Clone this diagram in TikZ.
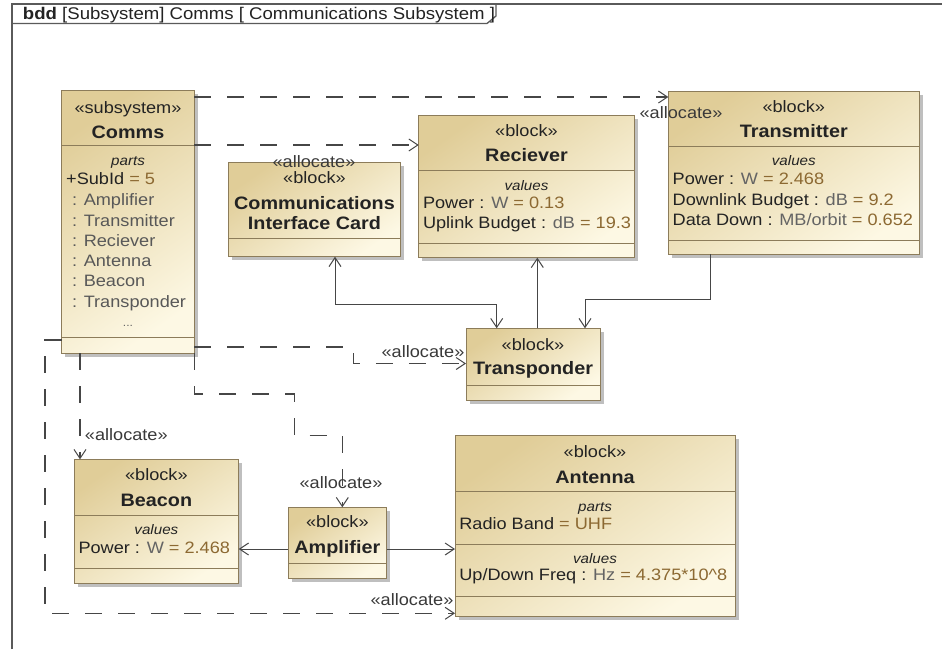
\documentclass[tikz,border=0pt]{standalone}
\usepackage{fontspec}
\setmainfont{Liberation Sans}[FakeStretch=1.1]
\usetikzlibrary{arrows.meta,shadows}

% palette
\definecolor{frameline}{RGB}{90,90,90}
\definecolor{edgeline}{RGB}{70,70,70}
\definecolor{blockborder}{RGB}{140,124,90}
\definecolor{blocktop}{RGB}{224,205,152}
\definecolor{blockbottom}{RGB}{253,248,228}
\definecolor{nametext}{RGB}{35,35,35}
\definecolor{typetext}{RGB}{100,100,100}
\definecolor{parttext}{RGB}{88,88,88}
\definecolor{valuetext}{RGB}{140,105,50}

\newcommand{\typ}[1]{\textcolor{typetext}{#1}}
\newcommand{\val}[1]{\textcolor{valuetext}{#1}}

\tikzset{
  frame/.style={draw=frameline, line width=1.3pt},
  blockbox/.style={draw=blockborder, line width=1pt, inner sep=0pt, outer sep=0pt,
    anchor=north west, top color=blocktop, bottom color=blockbottom, shading angle=35,
    drop shadow={shadow xshift=3.5pt, shadow yshift=-3.5pt, fill=black!50, opacity=0.5}},
  compline/.style={draw=blockborder, line width=0.9pt},
  txtbase/.style={inner sep=0pt, outer sep=0pt, text=nametext, text depth=0pt},
  stereo/.style={txtbase, font=\fontsize{16.5}{19}\selectfont, text height=11.8pt},
  blocktitle/.style={txtbase, font=\bfseries\fontsize{18}{21}\selectfont, text height=12.9pt},
  compname/.style={txtbase, font=\itshape\fontsize{13.8}{16}\selectfont, text height=9.9pt},
  attr/.style={stereo, anchor=west},
  partline/.style={attr, text=parttext},
  lbl/.style={stereo, text=nametext!90},
  barb/.tip={Straight Barb[length=9pt,width=12pt,line width=1pt]},
  assoc/.style={draw=edgeline, line width=1pt},
  alloc/.style={draw=edgeline, line width=1.1pt, dash pattern=on 17pt off 16pt, -barb},
}

\begin{document}
\begin{tikzpicture}[x=1pt, y=-1pt]
\useasboundingbox (0,0) rectangle (942,649);
\fill[white] (0,0) rectangle (942,649);

% diagram frame with its name tab
\draw[frame] (12,649) -- (12,4) -- (942,4);
\draw[frame] (12,23.5) -- (487,23.5) -- (496,16) -- (496,4);
\node[stereo, anchor=west, font=\fontsize{16.9}{19}\selectfont, text height=11.8pt] (title) at (23,13.8)
  {\textbf{bdd} [Subsystem] Comms [ Communications Subsystem ]};

% ---------- blocks ----------
\node[blockbox, minimum width=132.6pt, minimum height=263pt] (comms) at (61.7,90) {};
\draw[compline] (comms.west |- 0,145.7) -- (comms.east |- 0,145.7);
\draw[compline] (comms.west |- 0,337.7) -- (comms.east |- 0,337.7);

\node[blockbox, minimum width=172.4pt, minimum height=94pt] (cic) at (228.3,162.7) {};
\draw[compline] (cic.west |- 0,238.7) -- (cic.east |- 0,238.7);

\node[blockbox, minimum width=215.6pt, minimum height=142.7pt] (recv) at (418.7,115) {};
\draw[compline] (recv.west |- 0,170) -- (recv.east |- 0,170);
\draw[compline] (recv.west |- 0,243.3) -- (recv.east |- 0,243.3);

\node[blockbox, minimum width=251pt, minimum height=163pt] (tx) at (668.3,91) {};
\draw[compline] (tx.west |- 0,146.7) -- (tx.east |- 0,146.7);
\draw[compline] (tx.west |- 0,240.7) -- (tx.east |- 0,240.7);

\node[blockbox, minimum width=134pt, minimum height=71.7pt] (tp) at (466,328.3) {};
\draw[compline] (tp.west |- 0,385) -- (tp.east |- 0,385);

\node[blockbox, minimum width=164.7pt, minimum height=124pt] (beacon) at (74,459.3) {};
\draw[compline] (beacon.west |- 0,515.7) -- (beacon.east |- 0,515.7);
\draw[compline] (beacon.west |- 0,568.3) -- (beacon.east |- 0,568.3);

\node[blockbox, minimum width=98.7pt, minimum height=71pt] (amp) at (288,507.3) {};
\draw[compline] (amp.west |- 0,563.3) -- (amp.east |- 0,563.3);

\node[blockbox, minimum width=280pt, minimum height=181.7pt] (ant) at (455,435) {};
\draw[compline] (ant.west |- 0,491) -- (ant.east |- 0,491);
\draw[compline] (ant.west |- 0,544.3) -- (ant.east |- 0,544.3);
\draw[compline] (ant.west |- 0,596.7) -- (ant.east |- 0,596.7);

% ---------- block texts ----------
% Comms
\node[stereo] (commsst) at (comms.north |- 0,108) {«subsystem»};
\node[blocktitle] (commsname) at (comms.north |- 0,131.7) {Comms};
\node[compname] (commsparts) at (comms.north |- 0,161) {parts};
\node[attr] (commsp0) at (66.2,179) {+SubId \val{= 5}};
\node[partline] (commsp1) at (72,200) {: Amplifier};
\node[partline] (commsp2) at (72,220.3) {: Transmitter};
\node[partline] (commsp3) at (72,240.6) {: Reciever};
\node[partline] (commsp4) at (72,260.8) {: Antenna};
\node[partline] (commsp5) at (72,281) {: Beacon};
\node[partline] (commsp6) at (72,301.2) {: Transponder};
\node[txtbase, text=typetext, font=\fontsize{11}{12}\selectfont, text height=8pt] (commsmore) at (comms.north |- 0,322) {...};

% Communications Interface Card
\node[stereo] (cicst) at (cic.north |- 0,177.7) {«block»};
\node[blocktitle] (cicnameA) at (cic.north |- 0,203) {Communications};
\node[blocktitle] (cicnameB) at (cic.north |- 0,222.7) {Interface Card};

% Reciever
\node[stereo] (recvst) at (recv.north |- 0,130.7) {«block»};
\node[blocktitle] (recvname) at (recv.north |- 0,155) {Reciever};
\node[compname] (recvvals) at (recv.north |- 0,185.3) {values};
\node[attr] (recvv1) at (423,202.7) {Power : \typ{W} \val{= 0.13}};
\node[attr] (recvv2) at (423,222.7) {Uplink Budget : \typ{dB} \val{= 19.3}};

% Transmitter
\node[stereo] (txst) at (tx.north |- 0,106.7) {«block»};
\node[blocktitle] (txname) at (tx.north |- 0,130.7) {Transmitter};
\node[compname] (txvals) at (tx.north |- 0,161) {values};
\node[attr] (txv1) at (672.7,178.3) {Power : \typ{W} \val{= 2.468}};
\node[attr] (txv2) at (672.7,199.3) {Downlink Budget : \typ{dB} \val{= 9.2}};
\node[attr] (txv3) at (672.7,220) {Data Down : \typ{MB/orbit} \val{= 0.652}};

% Transponder
\node[stereo] (tpst) at (tp.north |- 0,345) {«block»};
\node[blocktitle] (tpname) at (tp.north |- 0,368.3) {Transponder};

% Beacon
\node[stereo] (beaconst) at (beacon.north |- 0,475) {«block»};
\node[blocktitle] (beaconname) at (beacon.north |- 0,500) {Beacon};
\node[compname] (beaconvals) at (beacon.north |- 0,529.3) {values};
\node[attr] (beaconv1) at (78.5,547.7) {Power : \typ{W} \val{= 2.468}};

% Amplifier
\node[stereo] (ampst) at (amp.north |- 0,521.7) {«block»};
\node[blocktitle] (ampname) at (amp.north |- 0,547.3) {Amplifier};

% Antenna
\node[stereo] (antst) at (ant.north |- 0,451.7) {«block»};
\node[blocktitle] (antname) at (ant.north |- 0,476.7) {Antenna};
\node[compname] (antparts) at (ant.north |- 0,506.7) {parts};
\node[attr] (antp1) at (459.3,524) {Radio Band \val{= UHF}};
\node[compname] (antvals) at (ant.north |- 0,558.3) {values};
\node[attr] (antv1) at (459.3,575) {Up/Down Freq : \typ{Hz} \val{= 4.375*10\^{}8}};

% ---------- associations ----------
\draw[assoc, barb-barb] (cic.south -| 335,0) -- (335,304.3) -- (496.7,304.3) -- (tp.north -| 496.7,0);
\draw[assoc, -barb] (tp.north -| 537.3,0) -- (recv.south -| 537.3,0);
\draw[assoc, -barb] (tx.south -| 710.5,0) -- (710.5,299.3) -- (585,299.3) -- (tp.north -| 585,0);
\draw[assoc, -barb] (amp.west |- 0,549) -- (beacon.east |- 0,549);
\draw[assoc, -barb] (amp.east |- 0,549) -- (ant.west |- 0,549);

% ---------- allocations ----------
\draw[alloc] (comms.east |- 0,97) -- (tx.west |- 0,97);
\draw[alloc] (comms.east |- 0,145) -- (recv.west |- 0,145);
\draw[alloc] (comms.east |- 0,347) -- (353.3,347) -- (353.3,363.5) -- (tp.west |- 0,363.5);
\draw[alloc] (comms.south -| 80,0) -- (beacon.north -| 80,0);
\draw[alloc] (comms.south east) -- (194.3,394) -- (294.3,394) -- (294.3,435.7) -- (342.3,435.7) -- (amp.north -| 342.3,0);
\draw[alloc] (comms.west |- 0,340) -- (45,340) -- (45,613.3) -- (ant.west |- 0,613.3);

\node[lbl] (alloctx) at (681,113) {«allocate»};
\node[lbl] (allocrecv) at (314,161.7) {«allocate»};
\node[lbl] (alloctp) at (423,352) {«allocate»};
\node[lbl] (allocbeacon) at (126.3,435) {«allocate»};
\node[lbl] (allocamp) at (341,482.3) {«allocate»};
\node[lbl] (allocant) at (412,600) {«allocate»};
\end{tikzpicture}
\end{document}
